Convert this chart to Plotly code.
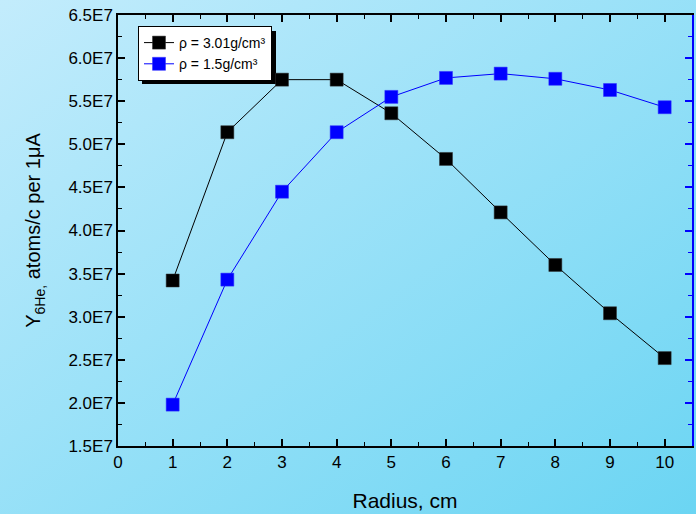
import plotly.graph_objects as go
import base64

radius = [1, 2, 3, 4, 5, 6, 7, 8, 9, 10]
y_dense = [3.42e7, 5.14e7, 5.75e7, 5.75e7, 5.36e7, 4.83e7, 4.21e7, 3.60e7, 3.04e7, 2.52e7]
y_light = [1.98e7, 3.43e7, 4.45e7, 5.14e7, 5.55e7, 5.77e7, 5.82e7, 5.76e7, 5.63e7, 5.43e7]
name_dense = "ρ = 3.01g/cm³"
name_light = "ρ = 1.5g/cm³"
ytick_vals = [1.5e7, 2.0e7, 2.5e7, 3.0e7, 3.5e7, 4.0e7, 4.5e7, 5.0e7, 5.5e7, 6.0e7, 6.5e7]
ytick_text = ["1.5E7", "2.0E7", "2.5E7", "3.0E7", "3.5E7", "4.0E7", "4.5E7", "5.0E7", "5.5E7", "6.0E7", "6.5E7"]

W, H = 696, 514
L, R, T, B = 118, 4, 15, 68
pw, ph = W - L - R, H - T - B

svg = ('<svg xmlns="http://www.w3.org/2000/svg" width="696" height="514" preserveAspectRatio="none">'
       '<defs><linearGradient id="g" x1="0" y1="0" x2="1" y2="1">'
       '<stop offset="0" stop-color="#c3ecfc"/><stop offset="1" stop-color="#6bd5f3"/>'
       '</linearGradient></defs><rect width="696" height="514" fill="url(#g)"/></svg>')
bg_uri = "data:image/svg+xml;base64," + base64.b64encode(svg.encode()).decode()

fig = go.Figure()
fig.add_trace(go.Scatter(x=radius, y=y_dense, mode="lines+markers", name=name_dense,
                         line=dict(color="black", width=1),
                         marker=dict(symbol="square", size=13, color="black",
                                     line=dict(color="#333333", width=0.5))))
fig.add_trace(go.Scatter(x=radius, y=y_light, mode="lines+markers", name=name_light,
                         line=dict(color="#0000ff", width=1),
                         marker=dict(symbol="square", size=13, color="#0000ff",
                                     line=dict(color="#3030ff", width=0.5))))

fig.add_layout_image(dict(source=bg_uri, xref="paper", yref="paper",
                          x=-L / pw, y=1 + T / ph, sizex=W / pw, sizey=H / ph,
                          xanchor="left", yanchor="top", sizing="stretch", layer="below"))

# legend shadow
fig.add_shape(type="rect", xref="paper", yref="paper",
              x0=(142 - L) / pw, x1=(276 - L) / pw,
              y0=1 - (84 - T) / ph, y1=1 - (31 - T) / ph,
              fillcolor="black", line=dict(width=0), layer="below")

tfont = dict(family="Arial, Liberation Sans", size=17, color="black")
axis_common = dict(showline=True, linewidth=1.5, ticks="inside", ticklen=7, tickwidth=1.5,
                   showgrid=False, zeroline=False, tickfont=tfont)

fig.update_layout(
    width=W, height=H,
    margin=dict(l=L, r=R, t=T, b=B),
    paper_bgcolor="rgba(0,0,0,0)", plot_bgcolor="rgba(0,0,0,0)",
    font=dict(family="Arial, Liberation Sans", color="black"),
    showlegend=True,
    legend=dict(x=(138 - L) / pw, y=1 - (26 - T) / ph, xanchor="left", yanchor="top",
                bgcolor="white", bordercolor="black", borderwidth=1,
                font=dict(size=14, color="black"), tracegroupgap=0, itemwidth=30),
    xaxis=dict(range=[0, 10.5], tickvals=list(range(11)), linecolor="black", tickcolor="black",
               mirror="ticks",
               title=dict(text="Radius, cm", font=dict(size=21), standoff=22),
               minor=dict(ticks="inside", ticklen=4, tickwidth=1.2, tickcolor="black",
                          dtick=0.5, tick0=0),
               **axis_common),
    yaxis=dict(range=[1.5e7, 6.5e7], tickvals=ytick_vals, ticktext=ytick_text,
               linecolor="black", tickcolor="black", mirror=False,
               title=dict(text="Y<sub>6He,</sub> atoms/c per 1μA", font=dict(size=20), standoff=22),
               minor=dict(ticks="inside", ticklen=4, tickwidth=1.2, tickcolor="black",
                          dtick=2.5e6, tick0=1.5e7),
               **axis_common),
    yaxis2=dict(range=[1.5e7, 6.5e7], overlaying="y", side="right", showticklabels=False,
                showline=True, linecolor="#0000ff", linewidth=2, ticks="inside", ticklen=7,
                tickwidth=1.5, tickcolor="#0000ff", tickvals=ytick_vals, showgrid=False,
                zeroline=False,
                minor=dict(ticks="inside", ticklen=4, tickwidth=1.2, tickcolor="#0000ff",
                           dtick=2.5e6, tick0=1.5e7)),
)
fig.add_trace(go.Scatter(x=[None], y=[None], yaxis="y2", showlegend=False, hoverinfo="skip"))

fig.write_html("out.html")
